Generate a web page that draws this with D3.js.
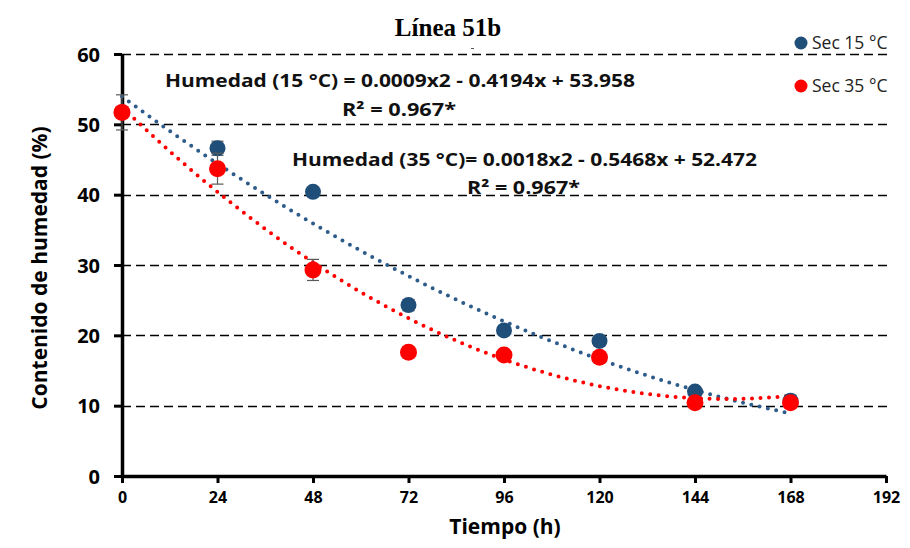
<!DOCTYPE html>
<html>
<head>
<meta charset="utf-8">
<script src="https://cdn.jsdelivr.net/npm/d3@7"></script>
<style>
  body { margin: 0; background: #fff; }
  text { font-family: "Open Sans", "Noto Sans", sans-serif; }
</style>
</head>
<body>
<svg id="chart" width="910" height="548"></svg>
<script>
// Drying data (moisture content vs time)
const hours = [0, 24, 48, 72, 96, 120, 144, 168];
const sec15 = [51.7, 46.6, 40.4, 24.3, 20.7, 19.2, 12.0, 10.7];
const sec15Err = [2.5, 1.0, 0.5, 0.8, 0.6, 0.7, 0.5, 0.8];
const sec35 = [51.7, 43.7, 29.3, 17.6, 17.2, 16.9, 10.4, 10.4];
const sec35Err = [0.4, 2.2, 1.5, 0.3, 0.3, 0.6, 0.3, 0.3];
// Trend coefficients shown on the chart [a, b, c] for a*x^2 + b*x + c
const fit15 = [0.0009, -0.4194, 53.958];
const fit35 = [0.0018, -0.5468, 52.472];
const xTicks = [0, 24, 48, 72, 96, 120, 144, 168, 192];
const yTicks = [0, 10, 20, 30, 40, 50, 60];

const svg = d3.select("#chart");
const mLeft = 122, mRight = 886, mTop = 54, mBottom = 476;

const x = d3.scaleLinear().domain([0, 192]).range([mLeft, mRight]);
const y = d3.scaleLinear().domain([0, 60]).range([mBottom, mTop]);

// Title
svg.append("text")
    .attr("x", 448).attr("y", 36)
    .attr("text-anchor", "middle")
    .style("font-family", "'Liberation Serif', serif")
    .style("font-weight", "bold").style("font-size", "25px")
    .text("Línea 51b");
// stray mark under the title
svg.append("line").attr("x1", 471).attr("x2", 474).attr("y1", 48.5).attr("y2", 48.5)
    .attr("stroke", "#555").attr("stroke-width", 1);

// dashed gridlines
svg.append("g").selectAll("line")
    .data(yTicks.filter(d => d > 0))
    .enter().append("line")
    .attr("x1", mLeft).attr("x2", mRight + 4)
    .attr("y1", d => Math.round(y(d)) + 0.5).attr("y2", d => Math.round(y(d)) + 0.5)
    .attr("stroke", "#000").attr("stroke-width", 1.3)
    .attr("stroke-dasharray", "9,5");

// Axes
const xAxis = svg.append("g")
    .attr("transform", `translate(0,${mBottom})`)
    .call(d3.axisBottom(x).tickValues(xTicks).tickSize(7).tickSizeOuter(0));
xAxis.select(".domain").style("stroke", "#000").style("stroke-width", "3.5px");
xAxis.selectAll(".tick line").style("stroke-width", "3px");
xAxis.selectAll(".tick text")
    .attr("y", 16).attr("dy", "0.71em")
    .style("font-size", "16px").style("font-weight", "bold")
    .style("font-family", "'Open Sans', sans-serif");

const yAxis = svg.append("g")
    .attr("transform", `translate(${mLeft},0)`)
    .call(d3.axisLeft(y).tickValues(yTicks).tickSize(8).tickSizeOuter(0));
yAxis.select(".domain").style("stroke", "#000").style("stroke-width", "3.5px");
yAxis.selectAll(".tick line").style("stroke-width", "3px");
yAxis.selectAll(".tick text")
    .attr("x", -22).attr("dy", "0.35em")
    .style("font-size", "20px").style("font-weight", "bold");

// axis titles
svg.append("text")
    .attr("x", 505).attr("y", 534)
    .attr("text-anchor", "middle")
    .style("font-size", "21px").style("font-weight", "bold")
    .text("Tiempo (h)");

svg.append("text")
    .attr("transform", "translate(47,268) rotate(-90)")
    .attr("text-anchor", "middle")
    .style("font-size", "21px").style("font-weight", "bold")
    .text("Contenido de humedad (%)");

// trend curves (dotted)
const line = d3.line().x(d => x(d[0])).y(d => y(d[1])).curve(d3.curveBasis);
function trend(coef) {
    return d3.range(0, 168.5, 2).map(t => [t, coef[0] * t * t + coef[1] * t + coef[2]]);
}
svg.append("path")
    .attr("d", line(trend(fit15)))
    .attr("fill", "none").attr("stroke", "#2E5C8A")
    .attr("stroke-width", 4).attr("stroke-linecap", "round")
    .attr("stroke-dasharray", "0,8.5");
svg.append("path")
    .attr("d", line(trend(fit35)))
    .attr("fill", "none").attr("stroke", "#FF0000")
    .attr("stroke-width", 4).attr("stroke-linecap", "round")
    .attr("stroke-dasharray", "0,8.5");

// error bars + markers
function drawSeries(vals, errs, color, r) {
    const g = svg.append("g");
    hours.forEach((h, i) => {
        const cx = x(h), lo = y(vals[i] - errs[i]), hi = y(vals[i] + errs[i]);
        g.append("line").attr("x1", cx).attr("x2", cx).attr("y1", lo).attr("y2", hi)
            .attr("stroke", "#595959").attr("stroke-width", 1.2);
        [lo, hi].forEach(v => g.append("line")
            .attr("x1", cx - 6).attr("x2", cx + 6).attr("y1", v).attr("y2", v)
            .attr("stroke", "#595959").attr("stroke-width", 1.2));
    });
    g.selectAll("circle").data(vals).enter().append("circle")
        .attr("cx", (d, i) => x(hours[i]))
        .attr("cy", d => y(d))
        .attr("r", r)
        .attr("fill", color);
}
drawSeries(sec15, sec15Err, "#1F4E79", 8);
drawSeries(sec35, sec35Err, "#FF0000", 8.5);

// equations
const eq = svg.append("g").style("font-weight", "bold").style("font-size", "18px").attr("fill", "#111");
eq.append("text").attr("x", 165).attr("y", 87)
    .attr("textLength", 470).attr("lengthAdjust", "spacingAndGlyphs")
    .text("Humedad (15 °C) = 0.0009x2 - 0.4194x + 53.958");
eq.append("text").attr("x", 342).attr("y", 116)
    .attr("textLength", 114).attr("lengthAdjust", "spacingAndGlyphs")
    .text("R² = 0.967*");
eq.append("text").attr("x", 292).attr("y", 166)
    .attr("textLength", 465).attr("lengthAdjust", "spacingAndGlyphs")
    .text("Humedad (35 °C)= 0.0018x2 - 0.5468x + 52.472");
eq.append("text").attr("x", 467).attr("y", 194)
    .attr("textLength", 113).attr("lengthAdjust", "spacingAndGlyphs")
    .text("R² = 0.967*");

// legend
const legend = [["Sec 15 °C", "#1F4E79", 43], ["Sec 35 °C", "#FF0000", 86]];
legend.forEach(([name, color, ly]) => {
    svg.append("circle").attr("cx", 801).attr("cy", ly).attr("r", 6.5).attr("fill", color);
    svg.append("text").attr("x", 812).attr("y", ly + 6)
        .style("font-size", "17.5px").attr("fill", "#222")
        .text(name);
});
</script>
</body>
</html>
